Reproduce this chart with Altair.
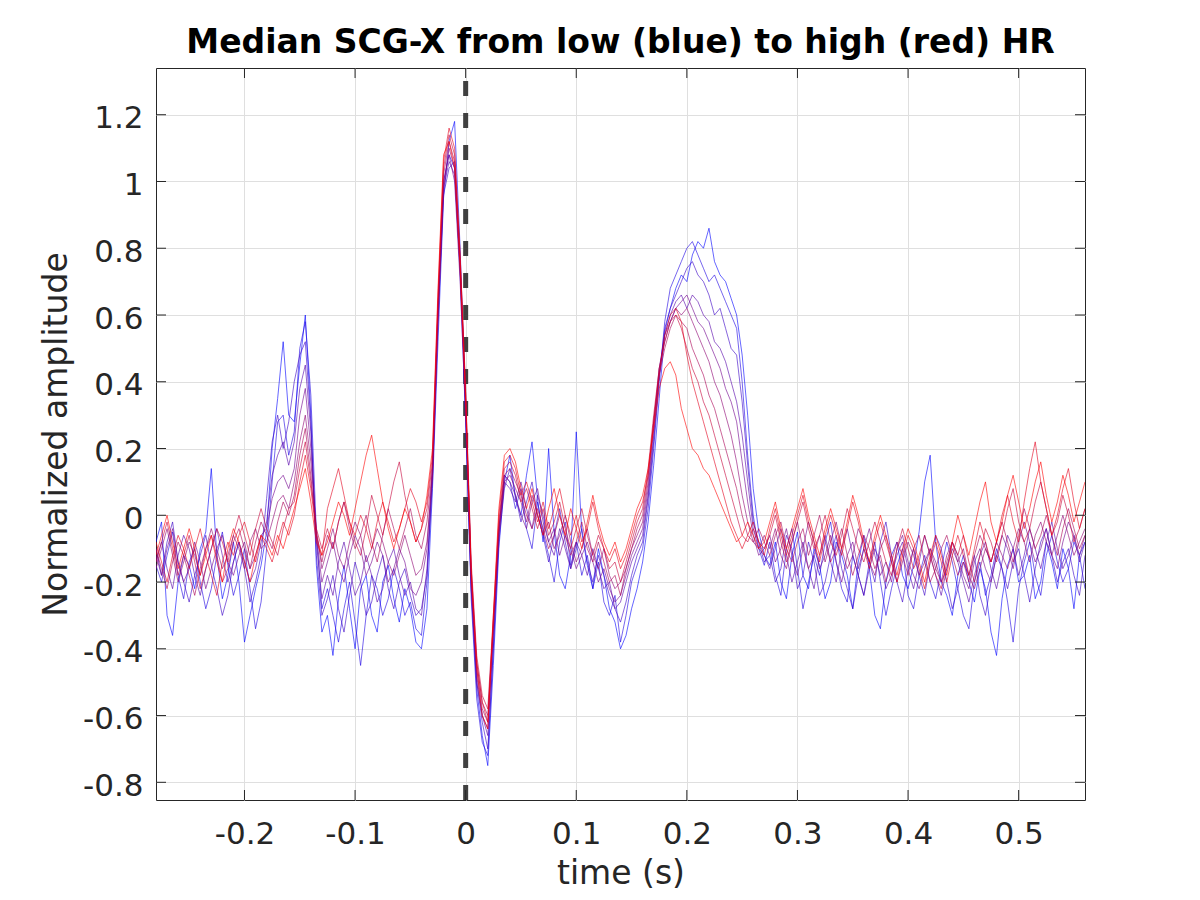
import altair as alt
import pandas as pd

# Sampling grid of the median beats (seconds)
T_START = -0.28
T_STEP = 0.005

# Median SCG-X beats, amplitudes in hundredths,
# ordered from lowest HR (blue) to highest HR (red)
hr_01 = [-8, -2, -30, -36, -20, -12, -15, -22, -10, -5, 14, -12, -25, -18, -8, -20, -38, -30, -22, -15,
         -5, 20, 35, 52, 30, 28, 45, 60, 30, -15, -35,
         -30, -42, -25, -15, -28, -40, -22, -18, -30, -35, -20, -15, -25, -32, -22, -28, -38, -40, -28,
         8, 52, 95, 112, 118, 80, 30, -22, -52, -66, -75, -45, -10, 10, 18,
         5, 0, 12, 22, 5, -8, 20, -5, -18, -22, -12, 25, -5, -15, -22, -10, -18, -28, -32, -40, -36, -28, -22, -14,
         -2, 15, 35, 55, 62, 68, 72, 70, 78, 82, 80, 86, 76, 72, 70, 65, 60, 48, 30, 8, -5, -12,
         -15, -8, -20, -25, -12, -5, -18, -22, -10, -15, -25, -20, -8, -12, -18, -28, -14, -6, -16, -30,
         -34, -20, -12, -8, -18, -22, -15, -5, 10, 18, -8, -20, -24, -30, -18, -12, -20, -26, -16, -22,
         -35, -42, -25, -15, -10, -20, -18, -12, -25, -20, -8, -14, -22, -10, -16, -28, -12, -8]
hr_02 = [-15, -20, -12, -5, -18, -25, -14, -10, -20, -28, -22, -12, -5, -15, -24, -18, -10, -22, -34, -26,
         -10, 10, 28, 30, 18, 25, 50, 58, 36, -5, -28,
         -22, -30, -38, -28, -20, -32, -45, -30, -18, -22, -30, -25, -16, -22, -30, -26, -34, -36, -20,
         15, 62, 100, 108, 104, 72, 28, -25, -55, -68, -72, -40, -5, 12, 10,
         2, 8, -4, -10, 4, -5, -12, -20, -8, -2, -15, -8, -18, -12, -22, -14, -26, -30, -24, -38, -30, -20, -15, -10,
         2, 20, 40, 58, 68, 72, 76, 80, 82, 78, 74, 70, 72, 68, 64, 60, 56, 40, 18, 0, -10, -15,
         -8, -18, -24, -10, -4, -16, -28, -20, -12, -18, -8, -2, -14, -22, -26, -12, -18, -24, -14, -8,
         -20, -30, -22, -15, -10, -24, -28, -18, -12, -20, -25, -16, -8, -14, -22, -30, -34, -20, -14, -24,
         -18, -10, -16, -26, -38, -22, -14, -8, -18, -24, -12, -6, -14, -20, -16, -8, -12, -22]
hr_03 = [-10, -18, -8, -2, -14, -20, -26, -18, -12, -6, -15, -22, -30, -24, -14, -8, -16, -26, -20, -12,
         5, 22, 30, 20, 28, 40, 48, 52, 28, -12, -30,
         -25, -18, -28, -35, -24, -14, -20, -30, -26, -18, -12, -22, -28, -20, -16, -24, -30, -28, -18,
         10, 58, 96, 104, 106, 76, 34, -18, -50, -62, -70, -40, -8, 8, 14,
         6, -2, 4, 10, 0, -6, -14, -6, 2, -8, -16, -10, -4, -14, -20, -12, -18, -24, -28, -32, -26, -18, -12, -8,
         5, 22, 42, 56, 62, 66, 70, 74, 76, 72, 70, 66, 60, 62, 56, 50, 48, 34, 15, -2, -8, -14,
         -12, -20, -16, -6, -10, -22, -18, -8, -14, -24, -20, -12, -6, -16, -22, -28, -18, -10, -14, -20,
         -8, -2, -12, -20, -26, -16, -10, -18, -24, -14, -6, -10, -20, -28, -22, -14, -18, -12, -24, -30,
         -20, -12, -16, -22, -14, -10, -18, -26, -16, -8, -4, -12, -20, -14, -10, -18, -24, -12]
hr_04 = [-14, -8, -16, -22, -12, -6, -10, -18, -24, -16, -10, -4, -12, -20, -14, -8, -14, -20, -16, -8,
         -2, 12, 18, 22, 15, 22, 38, 45, 25, -8, -25,
         -18, -24, -14, -8, -16, -24, -20, -12, -18, -26, -22, -14, -10, -18, -24, -20, -28, -30, -16,
         12, 60, 98, 106, 102, 74, 32, -20, -48, -60, -66, -36, -6, 10, 8,
         4, 10, 2, -4, 6, 0, -8, -12, -4, -10, -16, -8, -12, -18, -10, -16, -22, -20, -28, -26, -20, -14, -10, -6,
         6, 24, 42, 54, 60, 64, 66, 62, 66, 64, 60, 58, 52, 50, 46, 40, 34, 24, 10, -4, -10, -12,
         -16, -10, -4, -12, -20, -14, -8, -16, -22, -12, -6, -14, -20, -10, -4, -12, -18, -24, -16, -10,
         -14, -22, -18, -12, -8, -16, -22, -14, -6, -12, -18, -24, -16, -10, -14, -20, -26, -18, -12, -8,
         -16, -22, -14, -6, -10, -18, -12, -4, -10, -16, -8, -2, -10, -16, -12, -6, -14, -8]
hr_05 = [-12, -18, -10, -4, -14, -20, -16, -8, -14, -22, -16, -10, -6, -14, -18, -12, -8, -16, -12, -6,
         -4, 5, 10, 12, 8, 14, 30, 38, 20, -6, -20,
         -14, -8, -16, -20, -12, -6, -10, -18, -14, -8, -12, -20, -16, -10, -14, -22, -24, -20, -10,
         14, 62, 100, 108, 100, 70, 30, -22, -50, -60, -64, -34, -4, 12, 10,
         6, 0, -4, 4, 8, -2, -8, -4, -12, -6, -10, -16, -12, -8, -14, -20, -16, -22, -26, -24, -18, -12, -8, -4,
         8, 26, 44, 54, 58, 62, 64, 66, 62, 58, 56, 52, 48, 44, 38, 34, 28, 16, 4, -6, -12, -10,
         -6, -14, -10, -4, -12, -18, -10, -2, -8, -16, -12, -6, -14, -20, -12, -8, -16, -10, -4, -12,
         -18, -14, -20, -10, -6, -14, -18, -22, -16, -10, -14, -20, -16, -8, -12, -18, -22, -14, -10, -16,
         -20, -12, -6, -10, -16, -8, -2, -8, -14, -10, -4, -12, -16, -8, -2, -6, -12, -6]
hr_06 = [-16, -10, -4, -12, -20, -14, -8, -12, -18, -10, -4, -10, -16, -12, -6, -10, -16, -8, -4, -10,
         -8, -2, 4, 6, 2, 10, 22, 30, 16, -4, -16,
         -10, -4, -12, -16, -8, -2, -6, -14, -10, -4, -8, -14, -18, -12, -6, -12, -18, -16, -8,
         12, 58, 98, 110, 104, 74, 34, -18, -46, -58, -62, -34, -6, 10, 12,
         8, 4, -2, 6, 0, -6, -2, -10, -6, 0, -8, -14, -10, -4, -12, -16, -10, -18, -22, -20, -16, -10, -6, -2,
         10, 28, 44, 52, 58, 62, 60, 62, 58, 54, 50, 46, 40, 36, 30, 24, 16, 6, -2, -8, -10, -6,
         -10, -4, -12, -16, -8, -2, -10, -16, -12, -6, -14, -8, -2, -10, -16, -12, -4, -8, -14, -18,
         -10, -6, -14, -20, -14, -8, -12, -18, -14, -10, -16, -20, -12, -8, -14, -10, -18, -22, -16, -10,
         -14, -8, -12, -16, -10, -4, -8, -14, -6, -2, -8, -12, -6, 0, -6, -12, -8, -4]
hr_07 = [-10, -16, -22, -14, -8, -12, -18, -24, -16, -10, -6, -12, -20, -16, -8, -4, -10, -16, -8, -2,
         -6, -10, -2, 4, 0, 6, 18, 26, 12, -6, -14,
         -6, -10, -2, 4, -4, -10, -6, 0, -8, -14, -6, 2, -4, -10, -4, 2, -6, -10, -2,
         14, 62, 102, 112, 106, 76, 36, -16, -44, -56, -60, -32, -4, 12, 14,
         10, 6, 0, -4, 2, -4, -10, -6, 0, -6, -12, -8, -2, -10, -14, -8, -14, -20, -18, -24, -16, -10, -4, 0,
         12, 28, 42, 50, 56, 60, 58, 56, 50, 46, 42, 36, 32, 26, 20, 14, 8, 0, -6, -8, -4, -8,
         -12, -6, -2, -10, -14, -8, -4, -12, -6, 0, -8, -14, -10, -4, -12, -18, -12, -6, -10, -16,
         -12, -20, -14, -8, -12, -18, -10, -6, -14, -20, -16, -10, -6, -12, -18, -14, -20, -12, -6, -10,
         -14, -8, -2, -8, -14, -6, 2, -4, -10, -6, 0, -6, -12, -4, 2, -4, -10, -6]
hr_08 = [-14, -8, -2, -10, -18, -12, -6, -14, -22, -16, -10, -4, -8, -14, -6, 0, -6, -12, -4, 2,
         -4, -8, -12, -4, 2, 4, 14, 22, 10, -4, -10,
         -4, -10, -2, 4, -2, -8, -12, -4, 6, 0, -6, 2, 10, 16, 6, -2, -8, -4, 2,
         16, 64, 104, 114, 108, 78, 38, -14, -42, -54, -58, -30, -2, 14, 16,
         12, 4, 8, 2, -4, 2, -6, -2, 4, -4, -10, -4, 2, -6, -12, -6, -10, -16, -14, -20, -14, -8, -2, 2,
         14, 30, 44, 52, 58, 60, 56, 50, 44, 40, 34, 30, 24, 18, 12, 6, 0, -6, -8, -4, -8, -10,
         -6, 0, -8, -14, -8, -2, 4, -4, -10, -6, 0, -8, -12, -6, 2, -4, -10, -14, -8, -2,
         -8, -14, -18, -10, -4, -10, -16, -12, -6, -12, -18, -22, -14, -8, -12, -6, -14, -20, -12, -4,
         -8, -14, -6, 2, 8, -2, -8, -4, 4, 10, 2, -6, -2, 6, 0, -8, -4, 2]
hr_09 = [-8, -14, -20, -12, -6, -10, -16, -10, -4, -12, -18, -24, -14, -8, -12, -6, -2, -8, -14, -6,
         -10, -14, -8, -2, -6, 0, 10, 18, 8, -6, -12,
         2, 8, 14, 6, -2, -6, 0, -4, -10, -2, 4, -2, -8, -4, 2, 8, 4, -2, 4,
         18, 66, 106, 116, 110, 78, 36, -16, -44, -56, -62, -32, 0, 16, 18,
         14, 6, 10, 4, -2, 4, -4, 2, 8, 0, -6, 0, -8, -4, 4, -4, -10, -14, -10, -16, -12, -6, 0, 4,
         12, 28, 42, 54, 60, 62, 58, 48, 40, 34, 28, 22, 16, 10, 4, -2, -6, -10, -6, -2, -8, -12,
         -4, 2, -6, -12, -6, 0, 6, -2, -8, -14, -6, 0, -6, -12, -4, 4, -2, -10, -16, -8,
         -2, -8, -14, -20, -12, -6, -10, -16, -22, -14, -8, -14, -20, -12, -6, -12, -18, -10, -2, -8,
         -14, -8, 0, 6, -2, -8, 4, 14, 22, 10, 2, -6, 0, 8, 14, 4, -4, 2]
hr_10 = [-12, -6, 0, -8, -16, -10, -4, -10, -18, -12, -6, -14, -20, -10, -4, -8, -14, -20, -12, -6,
         -8, -12, -6, -10, -4, 2, 8, 14, 4, -8, -12,
         -8, -2, 4, 0, -6, 2, 10, 18, 24, 14, 4, -4, -10, -4, 2, -2, -8, -4, 6,
         20, 68, 108, 112, 104, 74, 34, -18, -46, -60, -64, -30, 2, 18, 20,
         16, 8, 2, 8, 0, -6, 2, 8, 0, -6, 2, -4, -10, -2, 6, -2, -8, -12, -8, -14, -10, -4, 2, 6,
         14, 26, 38, 44, 46, 42, 32, 26, 20, 18, 14, 12, 8, 4, 0, -4, -8, -6, -2, -6, -10, -8,
         -2, 4, -4, -10, -4, 2, 8, 0, -6, -12, -4, 2, -4, -10, -2, 6, 0, -8, -14, -6,
         0, -6, -12, -18, -10, -4, -8, -14, -20, -12, -6, -12, -18, -8, 0, -6, -12, -4, 4, 10,
         -2, -8, -2, 6, 12, 4, -4, 2, 10, 16, 6, -2, 4, 12, 6, -2, 4, 10]

TRACES = [hr_01, hr_02, hr_03, hr_04, hr_05, hr_06, hr_07, hr_08, hr_09, hr_10]

X_TICKS = [-0.2, -0.1, 0, 0.1, 0.2, 0.3, 0.4, 0.5]
Y_TICKS = [-0.8, -0.6, -0.4, -0.2, 0, 0.2, 0.4, 0.6, 0.8, 1, 1.2]
X_DOMAIN = [-0.28, 0.56]
Y_DOMAIN = [-0.853, 1.34]
MARKER_T = [0]

rows = []
for k, tr in enumerate(TRACES):
    for i, v in enumerate(tr):
        rows.append({"t": round(T_START + T_STEP * i, 4), "amp": v / 100.0, "trace": k})
df = pd.DataFrame(rows)

n = len(TRACES)
colors = []
for k in range(n):
    r = round(255 * k / (n - 1))
    colors.append("#%02x00%02x" % (r, 255 - r))

W, H = 929, 732
FONT = "DejaVu Sans"
TXT = "#262626"
TICK = 10

xs = alt.Scale(domain=X_DOMAIN, nice=False, zero=False)
ys = alt.Scale(domain=Y_DOMAIN, nice=False, zero=False)

x_axis = alt.Axis(
    values=X_TICKS, labelExpr="'' + datum.value", ticks=False, tickSize=0, domain=False,
    grid=True, gridColor="#dfdfdf", gridWidth=1,
    labelFont=FONT, labelFontSize=31, labelColor=TXT, labelBaseline="alphabetic",
    labelPadding=43, labelAlign="center",
    title="time (s)", titleFont=FONT, titleFontSize=33, titleFontWeight="normal",
    titleColor=TXT, titleX=W / 2, titleY=83, titleBaseline="alphabetic", titleAlign="center",
)
y_axis = alt.Axis(
    values=Y_TICKS, labelExpr="'' + datum.value", ticks=False, tickSize=0, domain=False,
    grid=True, gridColor="#dfdfdf", gridWidth=1,
    labelFont=FONT, labelFontSize=31, labelColor=TXT, labelBaseline="alphabetic",
    labelOffset=13, labelPadding=13,
    title="Normalized amplitude", titleFont=FONT, titleFontSize=33, titleFontWeight="normal",
    titleColor=TXT, titleX=-89.5, titleY=H / 2, titleBaseline="alphabetic", titleAlign="center",
    titleAngle=270,
)

marker = alt.Chart(pd.DataFrame({"t": MARKER_T})).mark_rule(
    color="#404040", strokeWidth=5, strokeDash=[15, 17]
).encode(
    x=alt.X("t:Q", scale=xs, axis=x_axis),
    y=alt.value(H), y2=alt.value(0),
)

lines = alt.Chart(df).mark_line(strokeWidth=1, opacity=0.6, clip=True).encode(
    x=alt.X("t:Q", scale=xs, axis=x_axis),
    y=alt.Y("amp:Q", scale=ys, axis=y_axis),
    color=alt.Color("trace:N", scale=alt.Scale(domain=list(range(n)), range=colors), legend=None),
)

ydf = pd.DataFrame({"amp": Y_TICKS})
xdf = pd.DataFrame({"t": X_TICKS})
tick_style = dict(color=TXT, strokeWidth=1)
left_ticks = alt.Chart(ydf).mark_rule(**tick_style).encode(
    y=alt.Y("amp:Q", scale=ys, axis=y_axis), x=alt.value(0), x2=alt.value(TICK))
right_ticks = alt.Chart(ydf).mark_rule(**tick_style).encode(
    y=alt.Y("amp:Q", scale=ys, axis=y_axis), x=alt.value(W - TICK), x2=alt.value(W))
bottom_ticks = alt.Chart(xdf).mark_rule(**tick_style).encode(
    x=alt.X("t:Q", scale=xs, axis=x_axis), y=alt.value(H - TICK), y2=alt.value(H))
top_ticks = alt.Chart(xdf).mark_rule(**tick_style).encode(
    x=alt.X("t:Q", scale=xs, axis=x_axis), y=alt.value(0), y2=alt.value(TICK))

chart = alt.layer(
    marker, lines, left_ticks, right_ticks, bottom_ticks, top_ticks
).properties(
    width=W, height=H,
    autosize=alt.AutoSizeParams(type="none"),
    padding={"left": 148, "top": 60, "right": 100, "bottom": 90},
    title=alt.TitleParams(
        "Median SCG-X from low (blue) to high (red) HR",
        font=FONT, fontSize=33, fontWeight="bold", color="#000000",
        anchor="middle", offset=6,
    ),
).configure_view(stroke=TXT, strokeWidth=1)

chart.save("out.html", embed_options={"renderer": "svg", "actions": False})
